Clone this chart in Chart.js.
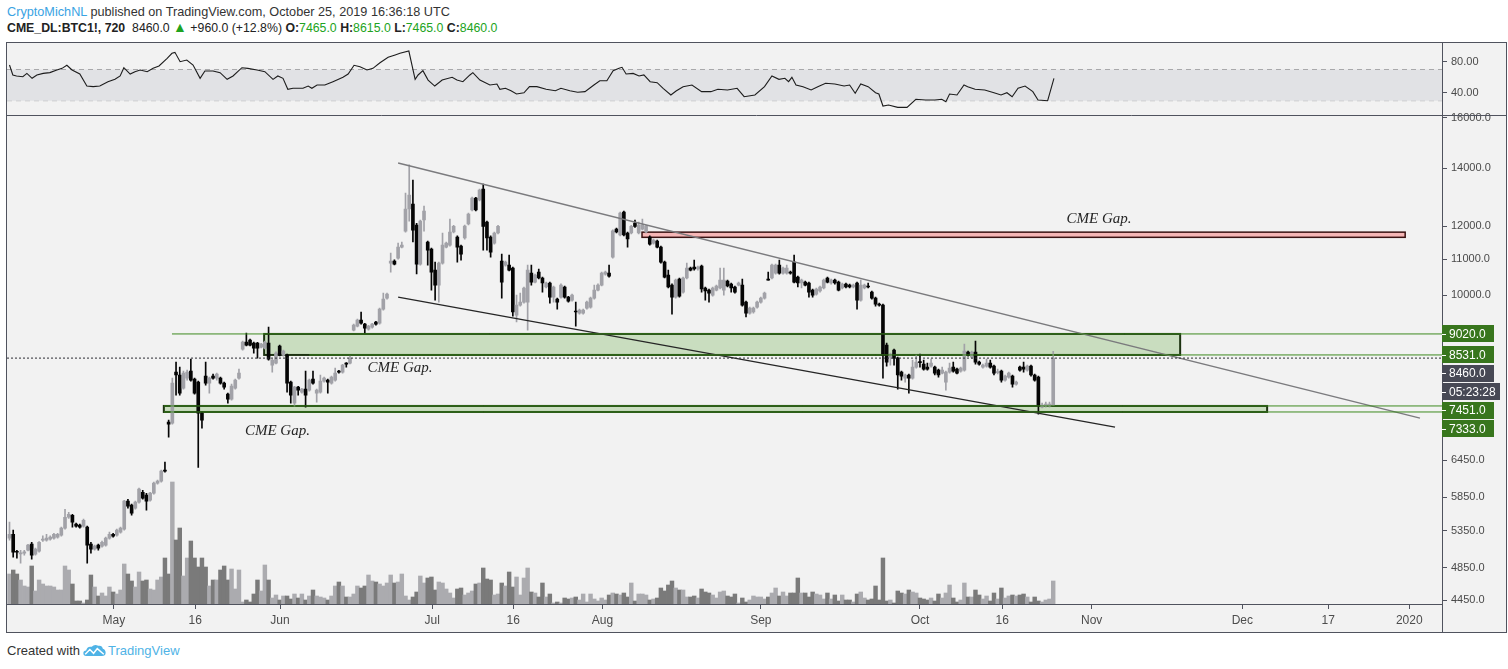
<!DOCTYPE html>
<html>
<head>
<meta charset="utf-8">
<script src="https://cdn.jsdelivr.net/npm/chart.js@4.4.1/dist/chart.umd.min.js"></script>
<style>
html,body{margin:0;padding:0;background:#fff;width:1508px;height:669px;overflow:hidden;font-family:'Liberation Sans',Arial,sans-serif;}
#hdr1{position:absolute;left:7px;top:5px;font-size:12.7px;color:#333;white-space:nowrap;}
#hdr2{position:absolute;left:7px;top:21px;font-size:12.3px;color:#222;white-space:nowrap;}
#hdr2 .g{color:#21a321;}
#hdr2 .tri{color:#1fa31f;font-size:14px;line-height:12px;}
#frame{position:absolute;left:6px;top:42px;width:1499px;height:589px;border:1px solid #50535e;background:#f2f2f2;}
#c{position:absolute;left:0;top:0;}
#foot{position:absolute;left:7px;top:643px;font-size:13px;color:#333;white-space:nowrap;}
#foot svg{vertical-align:-2px;margin:0 2px 0 3px;}
#foot .tv{color:#4fb3e6;}
</style>
</head>
<body>
<div id="hdr1"><span style="color:#3aa3e3">CryptoMichNL</span> published on TradingView.com, October 25, 2019 16:36:18 UTC</div>
<div id="hdr2"><b>CME_DL:BTC1!, 720</b>&nbsp; 8460.0 <span class="tri">&#9650;</span> +960.0 (+12.8%) <b>O:</b><span class="g">7465.0</span> <b>H:</b><span class="g">8615.0</span> <b>L:</b><span class="g">7465.0</span> <b>C:</b><span class="g">8460.0</span></div>
<div id="frame"><canvas id="c" width="1499" height="589"></canvas></div>
<div id="foot">Created with<svg width="23" height="13" viewBox="0 0 24 14"><path d="M3 13 Q0 13 0 10 Q0 7 3 7 Q4 2 9 3 Q12 0 16 2 Q20 1 21 5 Q24 6 24 9.5 Q24 13 20 13 Z" fill="#4fb3e6"/><path d="M2 11 L7 6 L11 10 L15 5 L22 11" stroke="#fff" stroke-width="1.6" fill="none"/></svg><span class="tv">TradingView</span></div>
<script>
// 12h candles, bar index 0 = first visible bar (mid April) ... 282 = Oct 25
const opens = [
5246,5301,5066,5030,5040,5081,5163,5027,5068,5218,
5218,5232,5246,5260,5287,5387,5546,5575,5444,5430,
5416,5402,5163,5095,5149,5136,5149,5246,5301,5287,
5330,5373,5787,5726,5680,5772,5926,5880,5802,5911,
6070,6103,6284,7138,7119,8152,8088,7812,8023,8173,
8001,7938,7310,8066,7917,8066,8023,8023,7917,7690,
7587,7812,8023,8665,8827,8874,8804,8804,8710,8688,
8804,8304,8348,8734,8528,8528,7938,7507,7833,7730,
7792,7771,8001,7709,7730,7960,7980,7917,7980,8173,
8152,8348,8348,9113,9210,9358,9260,9137,9186,9308,
9284,9636,9920,10886,10945,11032,11359,11852,12566,12735,
12044,10858,12204,11512,11300,10687,10270,10886,11359,11420,
11822,11666,11390,11635,12077,12532,12937,12870,13251,12140,
11666,11480,11790,10945,10829,10829,10744,9483,9738,9816,
9816,10602,10352,10630,10463,10216,10325,9947,9894,9947,
10216,9947,9868,9585,9534,9534,9660,9686,9920,10134,
10270,10574,10602,11060,11915,11728,12466,11790,11790,12109,
11790,11915,11822,11666,11480,11542,11359,10916,10546,10270,
9947,10435,10081,10463,10744,10773,10716,10801,10189,10134,
10000,10134,10189,10134,10380,10297,10216,10270,10270,9816,
9534,9560,9686,9816,9920,10435,10463,10602,10829,10602,
10602,10630,10916,10490,10325,10352,10325,10134,10027,10108,
10189,10463,10325,10407,10352,10189,10297,10270,10216,10325,
9868,10189,10243,10081,9920,9764,9738,8757,8482,8642,
8460,8152,8023,8088,8023,8260,8382,8326,8260,8282,
8260,8195,8131,7938,8152,8260,8217,8173,8195,8596,
8482,8596,8371,8260,8282,8348,8282,8140,8173,7980,
8045,8066,7896,8260,8260,8195,8282,8088,8045,7428,
7448,7448,7465];
const highs = [
5473,5358,5081,5081,5081,5160,5190,5110,5200,5280,
5301,5280,5315,5315,5402,5665,5620,5590,5460,5444,
5517,5416,5190,5150,5163,5205,5260,5330,5315,5373,
5402,5802,5817,5741,5787,5990,5958,5910,5926,6086,
6119,6284,6420,7176,8023,8371,8260,8173,8195,8437,
8023,7960,7330,8371,8045,8110,8131,8045,7938,7709,
7896,8001,8217,8850,9040,8900,8830,8820,8800,8850,
9186,8440,8600,8760,8640,8550,7960,7850,7850,7810,
8173,8000,8173,7790,8088,8045,8000,8066,8238,8190,
8320,8360,8505,9260,9380,9560,9280,9230,9280,9330,
9660,10054,10054,11180,10980,11480,11512,13112,14131,13571,
12100,12200,12667,11540,11330,10916,10916,11791,11512,12237,
12030,11700,11420,12040,12430,12970,12960,13250,13428,12170,
11700,11820,12030,11150,10945,11120,10770,10000,10054,10216,
10829,10829,10575,10716,10490,10352,10352,10243,9920,10300,
10243,9970,10027,9816,9636,9636,9842,9947,10270,10300,
10630,10660,10829,11890,11945,12465,12500,11820,12030,12204,
12140,12237,12030,11700,11600,11573,11390,10945,10687,10300,
10435,10463,10490,10887,10770,10974,10800,10829,10216,10162,
10216,10270,10744,10744,10407,10325,10243,10352,10435,9842,
9686,9686,9842,9947,10081,10630,10858,10858,10974,10773,
10829,10660,11120,10518,10435,10380,10352,10162,10189,10243,
10435,10490,10435,10435,10380,10325,10325,10297,10297,10352,
10407,10297,10325,10108,9947,9790,9764,8804,8573,8665,
8482,8173,8110,8110,8415,8528,8550,8415,8348,8437,
8282,8217,8260,8173,8348,8371,8238,8260,8780,8619,
8619,8850,8393,8326,8437,8415,8304,8217,8195,8088,
8152,8088,7960,8282,8371,8304,8304,8110,8066,7507,
7527,7527,8615];
const lows = [
5218,4987,4974,4909,5014,5070,4961,5014,5055,5200,
5205,5218,5232,5246,5273,5373,5530,5402,5400,5387,
5402,4909,5040,5081,5081,5122,5136,5232,5260,5273,
5315,5358,5680,5575,5665,5757,5817,5650,5787,5895,
6054,6086,6251,6860,7100,7669,7669,7790,7980,7960,
7690,6330,7025,7875,7710,8001,7980,7896,7792,7507,
7567,7790,8001,8640,8740,8740,8573,8460,8690,8670,
8415,8152,8330,8510,8505,7730,7507,7448,7669,7710,
7428,7750,7896,7527,7710,7938,7709,7896,7960,8131,
8131,8260,8330,9090,9190,9260,9040,9113,9162,9235,
9260,9610,9894,10630,10830,11000,11330,11820,12170,11512,
10578,10829,11852,10829,10134,9868,9816,10858,11330,11390,
11790,10916,10974,11600,12050,12500,12500,12840,11269,11269,
11060,11450,11760,9920,10800,10660,9458,9310,9710,9790,
9113,10270,10325,10435,10081,10190,9790,9816,9636,9920,
9920,9816,9842,9210,9509,9509,9636,9660,9894,10108,
10243,10546,10490,11030,11790,11700,11700,11359,11760,11970,
11760,11890,11790,11420,11450,11330,10886,10463,10190,9509,
9920,9947,10054,10435,10660,10687,10687,10081,9868,9816,
9974,10108,10162,10000,10216,10081,10054,10243,9710,9434,
9509,9534,9660,9790,9894,10407,10435,10574,10574,10574,
10574,10574,10325,10216,10189,10243,9947,9947,10000,10081,
10162,10325,10297,10297,10108,10162,10189,10189,10189,9636,
9842,10162,10189,9894,9712,9710,8023,8282,8304,8304,
7792,7980,7938,7709,8001,8238,8260,8195,8195,8260,
8088,8045,8110,7771,8131,8152,8110,8152,8173,8505,
8460,8326,8304,8238,8260,8238,8088,8110,7938,7960,
8023,7833,7875,8173,8152,8173,8066,7960,7291,7410,
7428,7428,7465];
const closes = [
5301,5053,5053,5045,5060,5149,5014,5095,5190,5232,
5246,5260,5301,5301,5387,5546,5590,5473,5416,5402,
5502,5149,5095,5136,5108,5190,5246,5301,5273,5358,
5387,5787,5711,5605,5772,5974,5833,5787,5911,6070,
6103,6268,6268,7100,7917,8088,7709,8131,8152,7980,
7709,7310,7176,7917,8023,8023,8109,7917,7834,7587,
7854,7980,8131,8827,8757,8757,8688,8688,8780,8827,
8437,8415,8573,8528,8619,7917,7669,7833,7771,7792,
7669,7980,7917,7771,7960,8023,7938,8045,8131,8152,
8304,8326,8460,9235,9358,9284,9162,9210,9260,9260,
9636,9894,10027,10945,10858,11359,11420,12566,13042,11884,
10858,12171,12500,11269,10630,10270,10886,11420,11480,11822,
12000,11359,11150,12012,12400,12937,12532,13216,12000,11635,
11209,11790,12000,10352,10916,10687,9560,9738,9816,10189,
10687,10352,10546,10463,10325,10325,9947,10216,9816,10270,
9947,9842,10000,9560,9610,9610,9816,9920,10134,10270,
10602,10630,10518,11862,11822,12433,11728,11604,12000,12000,
12044,12044,12000,11450,11573,11359,10916,10490,10216,9947,
10407,9974,10463,10744,10687,10716,10773,10162,10108,10054,
10189,10243,10407,10407,10243,10189,10081,10325,9738,9534,
9660,9660,9816,9920,10054,10407,10829,10829,10602,10744,
10744,10602,10352,10325,10407,10270,10081,10000,10162,10216,
10407,10352,10407,10325,10134,10297,10216,10216,10270,9868,
10270,10270,10216,9920,9764,9738,8528,8371,8550,8460,
8088,8066,8088,8023,8260,8371,8360,8217,8217,8348,
8131,8088,8195,8152,8238,8173,8131,8238,8619,8528,
8596,8371,8326,8304,8348,8260,8131,8160,7980,8066,
8131,7896,7938,8195,8217,8282,8088,7980,7468,7468,
7487,7487,8460];
// volume per bar (relative units, as drawn)
const volume = [
30,34,30,24,18,17,38,13,24,20,18,18,17,14,14,38,34,20,3,3,1,4,29,17,8,11,8,17,12,10,14,40,30,23,17,32,23,24,15,14,24,27,46,
30,122,
64,76,28,46,63,46,37,46,37,18,24,24,34,38,24,35,15,34,2,4,2,10,24,13,39,24,6,9,4,8,8,5,10,6,10,4,8,14,8,7,6,4,8,18,22,18,7,7,10,18,16,18,29,23,22,
20,
18,21,29,21,22,30,8,4,7,12,
28,21,26,27,14,22,21,15,11,6,
15,16,9,11,13,20,21,36,25,24,
9,10,21,18,32,17,27,9,26,36,
12,11,7,21,7,10,1,2,1,6,
5,6,7,4,10,2,10,5,3,6,
4,9,11,10,9,11,7,21,3,10,
10,9,4,5,6,16,13,19,23,16,
14,14,7,7,8,6,15,12,11,9,
6,12,13,8,7,10,1,6,2,4,
8,7,7,5,7,11,16,8,12,8,11,
11,26,11,11,7,12,10,9,5,11,
5,9,3,9,4,4,2,10,12,6,
4,5,18,4,46,3,4,1,13,11,
10,14,12,11,6,5,4,6,3,10,
6,11,19,6,2,4,21,7,7,14,
9,5,8,3,11,5,16,6,8,9,
8,9,10,7,2,7,3,2,4,
5,23];
// RSI read at these bar positions
const rsiBars = [0,0.9,1.9,3.6,4.7,6.1,7.4,9.1,10.9,12.8,14.2,15.5,16.9,19.0,20.9,22.6,24.4,26.6,28.5,29.9,30.9,32.6,33.9,35.3,37.2,38.8,40.4,42.6,43.9,44.7,46.1,47.9,49.6,51.5,52.8,55.0,56.9,58.8,60.4,62.8,64.4,66.9,69.0,71.2,72.5,73.9,75.2,76.6,79.3,80.7,81.7,83.1,85.2,87.4,90.1,91.5,93.1,94.7,96.6,98.2,100.1,102.3,104.2,105.5,107.9,109.6,110.4,111.7,113.1,114.9,116.9,119.6,120.9,122.5,124.4,125.2,127.1,129.8,131.7,
132.5,134.0,135.5,137.0,139.0,140.5,142.5,145.0,147.5,149.0,151.4,153.5,155.5,157.9,159.5,161.4,163.1,164.7,165.5,166.6,168.5,170.1,171.4,173.1,175.0,176.6,178.7,180.1,182.0,184.4,187.0,189.5,191.4,194.0,196.6,198.5,201.4,204.0,206.0,207.9,209.5,210.5,211.4,212.5,214.4,216.6,218.4,220.5,223.0,225.5,227.0,228.5,230.0,232.0,234.0,234.9,236.0,237.5,240.0,242.5,244.9,247.5,250.0,251.9,253.0,254.0,256.0,257.9,258.9,260.9,263.5,266.0,267.9,269.5,270.9,272.5,274.4,276.5,277.9,280.5,282.2];
const rsiValues = [75.8,63,61.7,60.8,65,58.7,63,65,66,69.4,71.5,75.4,69.4,64.2,48.8,48,48.8,54.4,57.4,61.7,72.3,64.2,67.2,69.4,67.2,71.5,74.5,84.4,90.8,92,80,82.2,75.8,58.7,68.1,68.1,66,57.4,61.7,72.3,71.5,69.4,67.2,57.4,61.7,58.7,44.6,45.9,45.9,48.8,45.9,50.1,50.1,54.4,60,64.2,75.4,73.6,69.4,71.5,78.7,85.6,88.6,90.8,93.7,57.4,63,68.5,56.5,48.8,56.5,60,56.5,54.4,63,66,56.5,50.1,51.4,
44.6,45.9,42.8,38.6,40.2,48,48,44.6,42.8,45.9,42.8,40.8,41.6,50.1,55.6,55.6,68.5,71.5,72.8,64.2,65,61.7,63,54.4,53.1,45.9,37.3,42.4,48,50.1,41.6,41.6,44.6,43.7,45.9,35.1,37.3,48,61.7,57.4,58.7,54.4,60,50.1,48,43.7,48,52.3,51.4,48.8,50.1,39.5,51.4,48,40.2,38.6,23.2,24.5,21.5,21.5,31.8,30.9,30.9,31.8,28.7,38.6,37.3,50.1,48,44.6,43.7,40.2,37.3,40.2,35.1,45.9,48.8,41.6,30.9,30,58.7];
const rsiBand = [70, 30];
const rsiTicks = [80, 40];

// axes
const tickBars = [28.2, 50.2, 73.1, 114.2, 136.1, 160.2, 203.0, 246.0, 268.2, 292.4, 333.1, 356.3, 378.2];
const tickLabels = ['May', '16', 'Jun', 'Jul', '16', 'Aug', 'Sep', 'Oct', '16', 'Nov', 'Dec', '17', '2020'];
const priceTicks = [16000, 14000, 12000, 11000, 10000, 9000, 6450, 5850, 5350, 4850, 4450];

// drawings
const levelPrices = [9020, 8531, 7451, 7333];
const levelStart = [43.9, 81.0, 41.7, 41.7];
const lastPrice = 8460;
const trendBars = [[105.0, 381.1], [105.0, 298.7]];
const trendPrices = [[14200, 7214], [9947, 7043]];
const zoneBars = [[170.9, 377.1], [68.8, 316.3], [41.7, 339.8]];
const zonePrices = [[11818, 11657], [9020, 8531], [7451, 7333]];
const noteBars = [294.4, 105.5, 72.4];
const notePrices = [12236, 8238, 6970];
const noteText = 'CME Gap.';
const axisLabelText = ['9020.0', '8531.0', '8460.0', '05:23:28', '7451.0', '7333.0'];
const axisLabelPrice = [9020, 8531, 8460, 8460, 7451, 7333];
const axisLabelDark = [false, false, true, true, false, false];

const X_MIN = -0.675, X_MAX = 387.05;
const FONT = "'Liberation Sans', Arial, sans-serif";

const idx = closes.map((c, i) => i);
const isUp = closes.map((c, i) => c >= opens[i]);
const candleCol = isUp.map(u => u ? '#a2a2a8' : '#050505');
const volCol = isUp.map(u => u ? '#ababaf' : '#7a7a7a');

const zoneFill = ['rgba(246,178,178,0.95)', 'rgba(168,204,150,0.55)', 'rgba(168,204,150,0.55)'];
const zoneEdge = ['#3a1212', '#1d3311', '#1d3311'];

const overlay = {
  id: 'overlay',
  beforeDatasetsDraw(chart) {
    const {ctx, scales: {x, price}} = chart;
    ctx.save();
    zoneBars.forEach((b, k) => {
      const x1 = x.getPixelForValue(b[0]), x2 = x.getPixelForValue(b[1]);
      const y1 = price.getPixelForValue(zonePrices[k][0]), y2 = price.getPixelForValue(zonePrices[k][1]);
      ctx.fillStyle = zoneFill[k];
      ctx.fillRect(x1, y1, x2 - x1, y2 - y1);
      ctx.strokeStyle = zoneEdge[k];
      ctx.lineWidth = k === 0 ? 1.5 : 2;
      ctx.strokeRect(x1, y1, x2 - x1, y2 - y1);
    });
    ctx.restore();
  },
  afterDatasetsDraw(chart) {
    const {ctx, scales: {x, price}} = chart;
    ctx.save();
    ctx.font = "italic 15px 'Liberation Serif', 'DejaVu Serif', serif";
    ctx.fillStyle = '#262626';
    ctx.textAlign = 'center';
    ctx.textBaseline = 'middle';
    noteBars.forEach((b, k) => {
      ctx.fillText(noteText, x.getPixelForValue(b), price.getPixelForValue(notePrices[k]));
    });
    ctx.restore();
  },
  afterDraw(chart) {
    const {ctx, chartArea, scales: {price}} = chart;
    ctx.save();
    ctx.strokeStyle = '#50535e';
    ctx.lineWidth = 1;
    ctx.beginPath();
    ctx.moveTo(0, Math.round(price.top) + 0.5);
    ctx.lineTo(chart.width, Math.round(price.top) + 0.5);
    ctx.moveTo(Math.round(chartArea.right) + 0.5, chartArea.bottom);
    ctx.lineTo(Math.round(chartArea.right) + 0.5, chart.height);
    ctx.stroke();
    // price labels on the axis
    let prev = -1e9;
    const left = Math.round(chartArea.right);
    ctx.font = '12px ' + FONT;
    ctx.textBaseline = 'middle';
    ctx.textAlign = 'left';
    axisLabelText.forEach((t, k) => {
      let y = price.getPixelForValue(axisLabelPrice[k]);
      y = Math.max(y, prev + 18.5);
      prev = y;
      const w = t.indexOf(':') >= 0 ? 58 : 52;
      ctx.fillStyle = axisLabelDark[k] ? '#474955' : '#38761d';
      ctx.fillRect(left, Math.round(y - 8.5), w, 17);
      ctx.fillStyle = '#ffffff';
      ctx.fillRect(left, Math.round(y), 4, 1);
      ctx.fillText(t, left + 7, y + 0.5);
    });
    ctx.restore();
  }
};

const lineDefaults = {type: 'line', pointRadius: 0, tension: 0, fill: false, yAxisID: 'price'};

const datasets = [
  {type: 'bar', data: idx.map(i => ({x: i, y: volume[i]})), yAxisID: 'vol', backgroundColor: volCol,
   barThickness: 3.8, grouped: false, order: 10},
  {type: 'line', data: [{x: X_MIN, y: rsiBand[0]}, {x: X_MAX, y: rsiBand[0]}], yAxisID: 'rsi', pointRadius: 0,
   borderColor: '#a9a9ab', borderWidth: 1, borderDash: [5, 4], fill: '+1', backgroundColor: '#e1e2e5', order: 9},
  {type: 'line', data: [{x: X_MIN, y: rsiBand[1]}, {x: X_MAX, y: rsiBand[1]}], yAxisID: 'rsi', pointRadius: 0,
   borderColor: '#a9a9ab', borderWidth: 1, borderDash: [5, 4], fill: false, order: 9},
  {type: 'line', data: rsiBars.map((b, k) => ({x: b, y: rsiValues[k]})), yAxisID: 'rsi', pointRadius: 0,
   borderColor: '#1c1c1c', borderWidth: 1.1, tension: 0, fill: false, order: 1},
  {type: 'bar', data: idx.map(i => ({x: i, y: [lows[i], highs[i]]})), yAxisID: 'price', backgroundColor: candleCol,
   barThickness: 1, grouped: false, order: 5},
  {type: 'bar', data: idx.map(i => ({x: i, y: [opens[i], closes[i]]})), yAxisID: 'price', backgroundColor: candleCol,
   barThickness: 3, minBarLength: 1, grouped: false, order: 4},
  ...levelPrices.map((p, k) => Object.assign({}, lineDefaults, {
    data: [{x: levelStart[k], y: p}, {x: X_MAX, y: p}], borderColor: '#3d8a1f', borderWidth: 1, order: 2})),
  Object.assign({}, lineDefaults, {data: [{x: X_MIN, y: lastPrice}, {x: X_MAX, y: lastPrice}],
    borderColor: '#2b2b33', borderWidth: 1, borderDash: [2, 2], order: 2}),
  Object.assign({}, lineDefaults, {data: trendBars[0].map((b, k) => ({x: b, y: trendPrices[0][k]})),
    borderColor: '#7b7b7e', borderWidth: 1.4, order: 2}),
  Object.assign({}, lineDefaults, {data: trendBars[1].map((b, k) => ({x: b, y: trendPrices[1][k]})),
    borderColor: '#262626', borderWidth: 1.4, order: 2})
];

const tickFont = {family: FONT, size: 11};

new Chart(document.getElementById('c'), {
  type: 'bar',
  data: {datasets},
  plugins: [overlay],
  options: {
    responsive: false,
    animation: false,
    events: [],
    layout: {padding: 0},
    plugins: {legend: {display: false}, tooltip: {enabled: false}},
    scales: {
      x: {
        type: 'linear', min: X_MIN, max: X_MAX, offset: false, position: 'bottom',
        afterBuildTicks: s => { s.ticks = tickBars.map(v => ({value: v})); },
        afterFit: s => { s.height = 28; s.paddingLeft = 0; s.paddingRight = 0; },
        ticks: {autoSkip: false, maxRotation: 0, color: '#4d4d4d', padding: 4, font: {family: FONT, size: 12},
          callback: (v, i) => tickLabels[i]},
        grid: {offset: false, drawOnChartArea: false, tickLength: 5, color: '#50535e'},
        border: {color: '#50535e'}
      },
      rsi: {
        type: 'linear', position: 'right', stack: 'panes', stackWeight: 71.5, weight: 1, min: 12.3, max: 104,
        afterBuildTicks: s => { s.ticks = rsiTicks.map(v => ({value: v})); },
        afterFit: s => { s.width = 64; s.paddingTop = 0; s.paddingBottom = 0; },
        ticks: {color: '#4a4a4a', padding: 4, font: tickFont, callback: v => Number(v).toFixed(2)},
        grid: {drawOnChartArea: false, tickLength: 5, color: '#50535e'},
        border: {color: '#50535e'}
      },
      price: {
        type: 'logarithmic', position: 'right', stack: 'panes', stackWeight: 489.5, weight: 2, min: 4405, max: 16149,
        afterBuildTicks: s => { s.ticks = priceTicks.map(v => ({value: v})); },
        afterFit: s => { s.width = 64; s.paddingTop = 0; s.paddingBottom = 0; },
        ticks: {autoSkip: false, color: '#4a4a4a', padding: 4, font: tickFont, callback: v => Number(v).toFixed(1)},
        grid: {drawOnChartArea: false, tickLength: 5, color: '#50535e'},
        border: {color: '#50535e'}
      },
      vol: {type: 'linear', position: 'right', display: false, min: 0, max: 561}
    }
  }
});
</script>
</body>
</html>
